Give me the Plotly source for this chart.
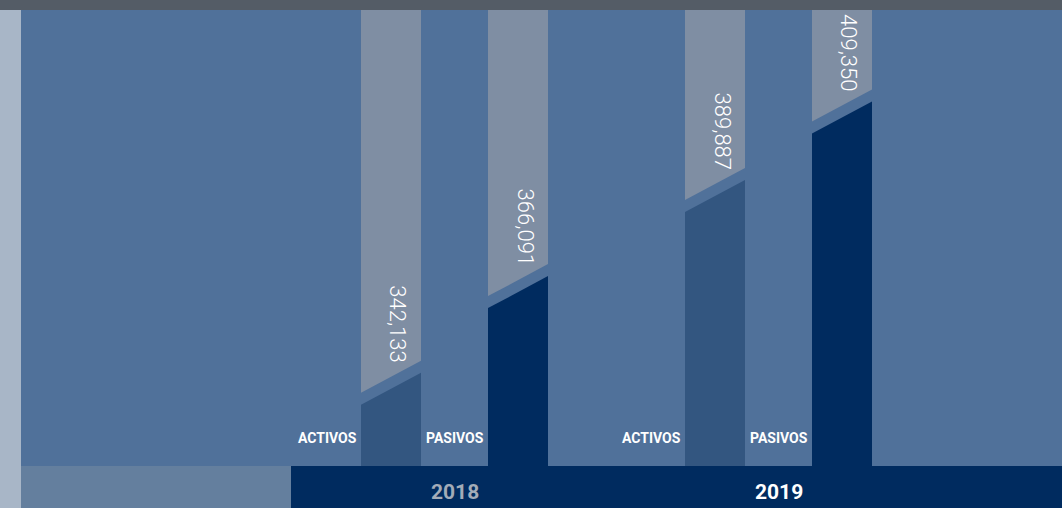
import plotly.graph_objects as go

# ---------------- data ----------------
years = ["2018", "2019"]
categories = ["ACTIVOS", "PASIVOS"]
activos = [342133, 389887]
pasivos = [366091, 409350]
year_colors = ["#a3acb8", "#ffffff"]

# ---------------- layout constants ----------------
W, H = 1062, 508
M_TOP, M_BOT = 10, 42
PLOT_H = H - M_TOP - M_BOT
Y_MIN, Y_MAX = 323000, 436000
PX = PLOT_H / (Y_MAX - Y_MIN)          # pixels per unit
BAR_W = 60
FIRST_CENTER = 391
PAIR_STEP = 127
GROUP_STEP = 324
SLANT_HALF = 16 / PX                    # half of slant rise
GAP = 12 / PX                           # gap between dark and gray parts

BG_MAIN = "#50719a"
GRAY = "#7f8ea3"
DARK_COLORS = {"ACTIVOS": "#335680", "PASIVOS": "#002b5f"}

fig = go.Figure()

series = {"ACTIVOS": activos, "PASIVOS": pasivos}
annotations = []
for g, year in enumerate(years):
    centers = []
    for i, cat in enumerate(categories):
        v = series[cat][g]
        c = FIRST_CENTER + g * GROUP_STEP + i * PAIR_STEP
        centers.append(c)
        x0, x1 = c - BAR_W / 2, c + BAR_W / 2
        # gray upper part
        fig.add_trace(go.Scatter(
            x=[x0, x0, x1, x1, x0],
            y=[Y_MAX, v - SLANT_HALF + GAP, v + SLANT_HALF + GAP, Y_MAX, Y_MAX],
            fill="toself", fillcolor=GRAY, mode="lines", line=dict(width=0),
            hoverinfo="skip", showlegend=False))
        # dark value part
        fig.add_trace(go.Scatter(
            x=[x0, x0, x1, x1, x0],
            y=[Y_MIN, v - SLANT_HALF, v + SLANT_HALF, Y_MIN, Y_MIN],
            fill="toself", fillcolor=DARK_COLORS[cat], mode="lines", line=dict(width=0),
            hoverinfo="skip", showlegend=False))
        # value label (rotated)
        annotations.append(dict(
            x=c + 7, y=v + 25 / PX, xref="x", yref="y",
            text=f"{v:,}", textangle=90, showarrow=False,
            xanchor="center", yanchor="bottom",
            font=dict(family="Roboto", size=22, color="white", weight=300)))
        # category label
        annotations.append(dict(
            x=x0 - 2, y=28 / PLOT_H, xref="x", yref="paper",
            text=f"<b>{cat}</b>", showarrow=False,
            xanchor="right", yanchor="middle",
            font=dict(family="Roboto", size=14, color="white")))
    annotations.append(dict(
        x=sum(centers) / 2, y=-26 / PLOT_H, xref="x", yref="paper",
        text=f"<b>{year}</b>", showarrow=False,
        xanchor="center", yanchor="middle",
        font=dict(family="Roboto", size=21, color=year_colors[g])))

bot = -M_BOT / PLOT_H
shapes = [
    # left light strip
    dict(type="rect", xref="paper", yref="paper", x0=0, x1=21 / W, y0=bot, y1=1,
         fillcolor="#a8b6c7", line=dict(width=0), layer="below"),
    # bottom-left light band
    dict(type="rect", xref="paper", yref="paper", x0=21 / W, x1=291 / W, y0=bot, y1=0,
         fillcolor="#647f9e", line=dict(width=0), layer="below"),
    # bottom navy band
    dict(type="rect", xref="paper", yref="paper", x0=291 / W, x1=1, y0=bot, y1=0,
         fillcolor="#002b5f", line=dict(width=0), layer="below"),
]

fig.update_layout(
    width=W, height=H,
    margin=dict(l=0, r=0, t=M_TOP, b=M_BOT, pad=0),
    paper_bgcolor="#545c66",
    plot_bgcolor=BG_MAIN,
    xaxis=dict(range=[0, W], visible=False, fixedrange=True),
    yaxis=dict(range=[Y_MIN, Y_MAX], visible=False, fixedrange=True),
    shapes=shapes,
    annotations=annotations,
    showlegend=False,
)

fig.write_html(
    "out.html",
    config={"displayModeBar": False},
    post_script="document.body.style.margin='0';document.body.style.overflow='hidden';",
)
